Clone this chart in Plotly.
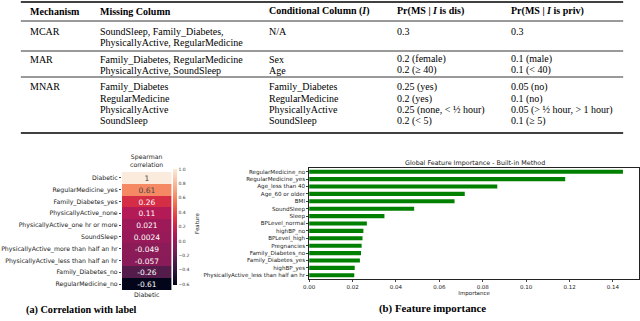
import plotly.graph_objects as go

# ---- table data ----
col_headers = ["Mechanism", "Missing Column", "Conditional Column (<i>I</i>)",
               "Pr(MS | <i>I</i> is dis)", "Pr(MS | <i>I</i> is priv)"]
mechanism = ["MCAR", "", "MAR", "", "MNAR", "", "", ""]
missing_col = ["SoundSleep, Family_Diabetes,", "PhysicallyActive, RegularMedicine",
               "Family_Diabetes, RegularMedicine", "PhysicallyActive, SoundSleep",
               "Family_Diabetes", "RegularMedicine", "PhysicallyActive", "SoundSleep"]
cond_col = ["N/A", "", "Sex", "Age", "Family_Diabetes", "RegularMedicine",
            "PhysicallyActive", "SoundSleep"]
pr_dis = ["0.3", "", "0.2 (female)", "0.2 (≥ 40)", "0.25 (yes)", "0.2 (yes)",
          "0.25 (none, < ½ hour)", "0.2 (< 5)"]
pr_priv = ["0.3", "", "0.1 (male)", "0.1 (< 40)", "0.05 (no)", "0.1 (no)",
           "0.05 (> ½ hour, > 1 hour)", "0.1 (≥ 5)"]

# ---- heatmap data ----
corr_features = ["Diabetic", "RegularMedicine_yes", "Family_Diabetes_yes",
                 "PhysicallyActive_none", "PhysicallyActive_one hr or more", "SoundSleep",
                 "PhysicallyActive_more than half an hr", "PhysicallyActive_less than half an hr",
                 "Family_Diabetes_no", "RegularMedicine_no"]
corr_values = [1, 0.61, 0.26, 0.11, 0.021, 0.0024, -0.049, -0.057, -0.26, -0.61]

# ---- feature importance data ----
imp_features = ["RegularMedicine_no", "RegularMedicine_yes", "Age_less than 40",
                "Age_60 or older", "BMI", "SoundSleep", "Sleep", "BPLevel_normal",
                "highBP_no", "BPLevel_high", "Pregnancies", "Family_Diabetes_no",
                "Family_Diabetes_yes", "highBP_yes", "PhysicallyActive_less than half an hr"]
imp_values = [0.1446, 0.118, 0.0867, 0.0717, 0.067, 0.0484, 0.0347, 0.0266,
              0.025, 0.0246, 0.0242, 0.0239, 0.0234, 0.021, 0.0208]

W, H = 640, 321
def px(x): return x / W
def py(y): return 1 - y / H

rocket = [[0.0, "#03051a"], [0.143, "#35193e"], [0.286, "#701f57"], [0.429, "#ad1759"],
          [0.571, "#e13342"], [0.714, "#f37651"], [0.857, "#f6b48f"], [1.0, "#faebdd"]]

fig = go.Figure()

fig.add_trace(go.Heatmap(
    z=[[v] for v in corr_values], x=["Diabetic"], y=corr_features,
    text=[[f"{v:.2g}"] for v in corr_values], texttemplate="%{text}",
    textfont=dict(size=7.5, family="DejaVu Sans"),
    colorscale=rocket, zmin=-0.61, zmax=1,
    xaxis="x", yaxis="y",
    colorbar=dict(x=px(169), xanchor="left", xpad=0, thickness=4,
                  y=py(227), yanchor="middle", len=116 / H, ypad=0,
                  outlinewidth=0, tickvals=[1.0, 0.8, 0.6, 0.4, 0.2, 0.0, -0.2, -0.4, -0.6],
                  tickformat=".1f", ticklen=2, tickwidth=0.5,
                  tickfont=dict(size=4.5, family="DejaVu Sans", color="#333")),
))

fig.add_trace(go.Bar(
    x=imp_values, y=imp_features, orientation="h",
    marker=dict(color="#008000", line=dict(width=0)),
    xaxis="x2", yaxis="y2", showlegend=False,
))

fig.update_layout(
    width=W, height=H, margin=dict(l=0, r=0, t=0, b=0),
    paper_bgcolor="white", plot_bgcolor="white", bargap=0.45,
    xaxis=dict(domain=[px(117), px(167)], side="bottom", showgrid=False, zeroline=False,
               ticks="", tickfont=dict(size=6.2, family="DejaVu Sans", color="#222")),
    yaxis=dict(domain=[py(290), py(172)], autorange="reversed", showgrid=False, zeroline=False,
               ticks="outside", ticklen=2, tickwidth=0.5, tickcolor="#444",
               tickfont=dict(size=6.2, family="DejaVu Sans", color="#222")),
    xaxis2=dict(domain=[px(306), px(639)], anchor="y2", range=[0, 0.152],
                tickvals=[0, 0.02, 0.04, 0.06, 0.08, 0.10, 0.12, 0.14], tickformat=".2f",
                showline=True, mirror=True, linecolor="#222", linewidth=0.8,
                ticks="outside", ticklen=2, tickwidth=0.5, showgrid=False, zeroline=False,
                tickfont=dict(size=5.5, family="DejaVu Sans", color="#222"),
                title=dict(text="Importance", standoff=2,
                           font=dict(size=5.5, family="DejaVu Sans", color="#222"))),
    yaxis2=dict(domain=[py(279), py(168)], anchor="x2", autorange="reversed",
                showline=True, mirror=True, linecolor="#222", linewidth=0.8,
                ticks="outside", ticklen=2, tickwidth=0.5, showgrid=False,
                tickfont=dict(size=5.6, family="DejaVu Sans", color="#222"),
                title=dict(text="Feature", standoff=3,
                           font=dict(size=5.5, family="DejaVu Sans", color="#222"))),
)

ann = []
serif = "Liberation Serif"
col_x = [22, 93, 263, 393, 508]
for cx, t in zip(col_x, col_headers):
    ann.append(dict(x=px(cx), y=py(11), text=f"<b>{t}</b>", xanchor="left", yanchor="middle",
                    font=dict(size=10, family=serif, color="black")))
row_y = [31, 42.5, 59, 70, 87, 98.5, 109.5, 120.5]
for i, ry in enumerate(row_y):
    for cx, col in zip(col_x, [mechanism, missing_col, cond_col, pr_dis, pr_priv]):
        if col[i]:
            ann.append(dict(x=px(cx), y=py(ry), text=col[i], xanchor="left", yanchor="middle",
                            font=dict(size=10, family=serif, color="black")))

ann.append(dict(x=px(142), y=py(161), text="Spearman<br>correlation", showarrow=False,
                xanchor="center", yanchor="middle",
                font=dict(size=6.2, family="DejaVu Sans", color="#222")))
ann.append(dict(x=px(473), y=py(163), text="Global Feature Importance - Built-in Method",
                xanchor="center", yanchor="middle",
                font=dict(size=6.4, family="DejaVu Sans", color="#222")))
ann.append(dict(x=px(76), y=py(310), text="<b>(a) Correlation with label</b>",
                xanchor="center", yanchor="middle", font=dict(size=10.2, family=serif, color="black")))
ann.append(dict(x=px(431), y=py(308), text="<b>(b) Feature importance</b>",
                xanchor="center", yanchor="middle", font=dict(size=10.8, family=serif, color="black")))
for a in ann:
    a.update(xref="paper", yref="paper", showarrow=False)
fig.update_layout(annotations=ann)

shapes = []
for ry, lw in [(2, 1.5), (21, 0.8), (51, 0.8), (77, 0.8), (133, 1.5)]:
    shapes.append(dict(type="line", xref="paper", yref="paper", x0=px(15), x1=px(623),
                       y0=py(ry), y1=py(ry), line=dict(color="black", width=lw)))
fig.update_layout(shapes=shapes)

fig.write_html("out.html", config={"displayModeBar": False},
               post_script="document.body.style.margin='0';document.body.style.overflow='hidden';")
